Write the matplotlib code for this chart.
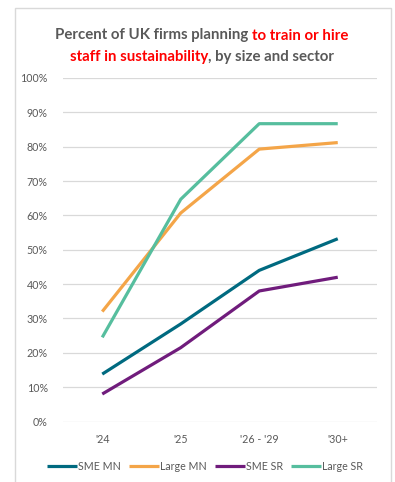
import matplotlib
matplotlib.use("Agg")
import matplotlib.pyplot as plt
from matplotlib.patches import Rectangle

categories = ["'24", "'25", "'26 - '29", "'30+"]
sme_mn = [13.8, 28.4, 44.0, 53.2]
large_mn = [32.0, 60.7, 79.3, 81.2]
sme_sr = [8.0, 21.5, 38.0, 42.0]
large_sr = [24.5, 64.7, 86.7, 86.7]
series_names = ["SME MN", "Large MN", "SME SR", "Large SR"]
yticks = [0, 10, 20, 30, 40, 50, 60, 70, 80, 90, 100]

colors = ["#006A80", "#F4A548", "#701C7C", "#56BE9E"]
GREY = "#595959"
plt.rcParams['font.family'] = ['Lato', 'DejaVu Sans']

W, H = 395, 482
fig = plt.figure(figsize=(W / 100, H / 100), dpi=100)

# outer border
fig.patches.append(Rectangle((15 / W, -0.01), 376 / W, 1 - 8 / H + 0.01, transform=fig.transFigure,
                             fill=False, edgecolor="#D9D9D9", linewidth=1.0))

ax = fig.add_axes([63 / W, 1 - 421.5 / H, (377 - 63) / W, (421.5 - 78) / H])
x = list(range(len(categories)))
for vals, c, name in zip([sme_mn, large_mn, sme_sr, large_sr], colors, series_names):
    ax.plot(x, vals, color=c, linewidth=2.3, label=name, solid_capstyle="butt")

ax.set_xlim(-0.5, len(categories) - 0.5)
ax.set_ylim(0, 100)
ax.set_yticks(yticks)
ax.set_yticklabels([f"{v}%" for v in yticks])
ax.set_xticks(x)
ax.set_xticklabels(categories)
ax.grid(axis="y", color="#D9D9D9", linewidth=0.9)
ax.set_axisbelow(True)
for s in ax.spines.values():
    s.set_visible(False)
ax.tick_params(length=0, colors=GREY, labelsize=7.7)
ax.tick_params(axis="y", pad=11)
ax.tick_params(axis="x", pad=9)

leg = fig.legend(loc="center", bbox_to_anchor=(205 / W, 1 - 466 / H), ncol=4, frameon=False,
                 fontsize=7.7, handlelength=2.8, handletextpad=0.1, columnspacing=0.75,
                 labelcolor=GREY)

# multi-colour title
fig.canvas.draw()
renderer = fig.canvas.get_renderer()
RED = "#FF0000"
title_lines = [
    [("Percent of UK firms planning ", GREY), ("to train or hire", RED)],
    [("staff in sustainability", RED), (", by size and sector", GREY)],
]
line_y = [35.5, 57.5]
fs = 10.8
for parts, yy in zip(title_lines, line_y):
    texts = []
    widths = []
    for s, c in parts:
        t = fig.text(0, 1 - yy / H, s, color=c, fontsize=fs, fontweight="bold", va="center", ha="left")
        widths.append(t.get_window_extent(renderer).width)
        texts.append(t)
    total = sum(widths)
    start = 202 - total / 2
    for t, w in zip(texts, widths):
        t.set_x(start / W)
        start += w

fig.savefig("out.png", dpi=100)
